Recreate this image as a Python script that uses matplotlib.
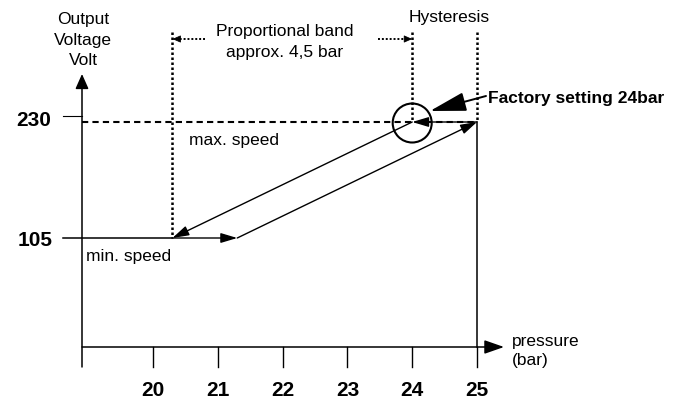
import matplotlib
matplotlib.use("Agg")
import matplotlib.pyplot as plt
from matplotlib.patches import Ellipse

plt.rcParams['font.family'] = ['Liberation Sans', 'DejaVu Sans']

# ---- data ----
pressure_ticks = [20, 21, 22, 23, 24, 25]
pressure_labels = ["20", "21", "22", "23", "24", "25"]
voltage_levels = [105, 230]
voltage_labels = ["105", "230"]
band_start = 20.3          # lower end of proportional band (bar)
setpoint = 24              # factory setting (bar)
hyst_end = 25              # end of hysteresis (bar)
min_speed_end = 21.3       # end of min speed plateau on rising curve
rise_p = [band_start, min_speed_end, hyst_end]
rise_v = [105, 105, 230]
fall_p = [setpoint, band_start]
fall_v = [230, 105]

# ---- layout helpers (pixel -> data) ----
W, H = 682, 400
PX_PER_BAR = 64.8
PX_PER_VOLT = 0.928
def dx(px):
    return 20 + (px - 153) / PX_PER_BAR
def dy(py):
    return 105 + (238 - py) / PX_PER_VOLT

fig = plt.figure(figsize=(W / 100, H / 100), dpi=100)
ax = fig.add_axes([0, 0, 1, 1])
ax.set_xlim(dx(0), dx(W))
ax.set_ylim(dy(H), dy(0))
ax.axis('off')

k = 'black'
x0 = dx(82)          # y axis position
yax = dy(347)        # x axis position
tick_bot = dy(367)

def arrow(tail, head, hl=1.0, hw=0.3, lw=1.0, ms=10):
    ax.annotate('', xy=head, xytext=tail,
                arrowprops=dict(arrowstyle=f'-|>,head_length={hl},head_width={hw}',
                                lw=lw, color=k, shrinkA=0, shrinkB=0,
                                mutation_scale=ms))

# axes
arrow((x0, tick_bot), (x0, dy(74)), hl=0.9, hw=0.4, lw=1.1)
arrow((x0, yax), (dx(504), yax), hl=1.2, hw=0.42, lw=1.1)
for p, lab in zip(pressure_ticks, pressure_labels):
    ax.plot([p, p], [yax, tick_bot], color=k, lw=1.0)
    ax.text(p, dy(390), lab, ha='center', va='center', fontsize=15,
            fontweight='bold', family='Liberation Sans')

# y tick labels
ax.plot([dx(63), x0], [dy(116), dy(116)], color=k, lw=0.8)
ax.text(dx(51), dy(120), voltage_labels[1], ha='right', va='center', fontsize=15,
        fontweight='bold', family='Liberation Sans')
ax.text(dx(53), dy(240), voltage_labels[0], ha='right', va='center', fontsize=15,
        fontweight='bold', family='Liberation Sans')

# dashed max-speed line
ax.plot([x0, hyst_end], [230, 230], color=k, lw=1.5, linestyle=(0, (3, 2)))

# min-speed line (from tick to band start)
ax.plot([dx(63), band_start], [105, 105], color=k, lw=1.1)

# rising curve
arrow((rise_p[0], rise_v[0]), (rise_p[1], rise_v[1]), hl=1.0, hw=0.3)
arrow((rise_p[1], rise_v[1]), (rise_p[2], rise_v[2]), hl=1.0, hw=0.3)
# hysteresis return at top
arrow((hyst_end, 230), (setpoint, 230), hl=1.0, hw=0.3)
# falling curve
arrow((fall_p[0], fall_v[0]), (fall_p[1], fall_v[1]), hl=1.0, hw=0.3)

# vertical solid line at 25 down to the x axis
ax.plot([hyst_end, hyst_end], [230, yax], color=k, lw=1.1)

# dotted verticals
dot = (0, (1, 1))
top = dy(32)
ax.plot([band_start, band_start], [top, 105], color=k, lw=1.8, linestyle=dot)
ax.plot([setpoint, setpoint], [top, 230], color=k, lw=1.8, linestyle=dot)
ax.plot([hyst_end, hyst_end], [top, 230], color=k, lw=1.8, linestyle=dot)

# dotted arrows of proportional band
ya = dy(39)
ax.plot([dx(205), band_start + 0.05], [ya, ya], color=k, lw=1.4, linestyle=dot)
ax.plot([dx(378), setpoint - 0.05], [ya, ya], color=k, lw=1.4, linestyle=dot)
arrow((band_start + 0.12, ya), (band_start, ya), hl=0.5, hw=0.22, lw=0.6)
arrow((setpoint - 0.12, ya), (setpoint, ya), hl=0.5, hw=0.22, lw=0.6)

# circle around the setpoint
ax.add_patch(Ellipse((setpoint, dy(123)), 39 / PX_PER_BAR, 39 / PX_PER_VOLT,
                     fill=False, ec=k, lw=1.5))

# Factory setting pointer
arrow((dx(486), dy(96)), (dx(430), dy(111)), hl=1.6, hw=0.42, lw=1.4, ms=14)
ax.text(dx(488), dy(98), "Factory setting 24bar", ha='left', va='center',
        fontsize=12.5, fontweight='bold')

# labels
fs = 12.5
ax.text(dx(83), dy(40), "Output\nVoltage\nVolt", ha='center', va='center', fontsize=fs, linespacing=1.45)
ax.text(dx(285), dy(42), "Proportional band\napprox. 4,5 bar", ha='center', va='center', fontsize=fs, linespacing=1.45)
ax.text(dx(449), dy(18), "Hysteresis", ha='center', va='center', fontsize=fs)
ax.text(dx(189), dy(140), "max. speed", ha='left', va='center', fontsize=fs)
ax.text(dx(86), dy(257), "min. speed", ha='left', va='center', fontsize=fs)
ax.text(dx(512), dy(351), "pressure\n(bar)", ha='left', va='center', fontsize=fs, linespacing=1.3)

fig.savefig("out.png", dpi=100)
